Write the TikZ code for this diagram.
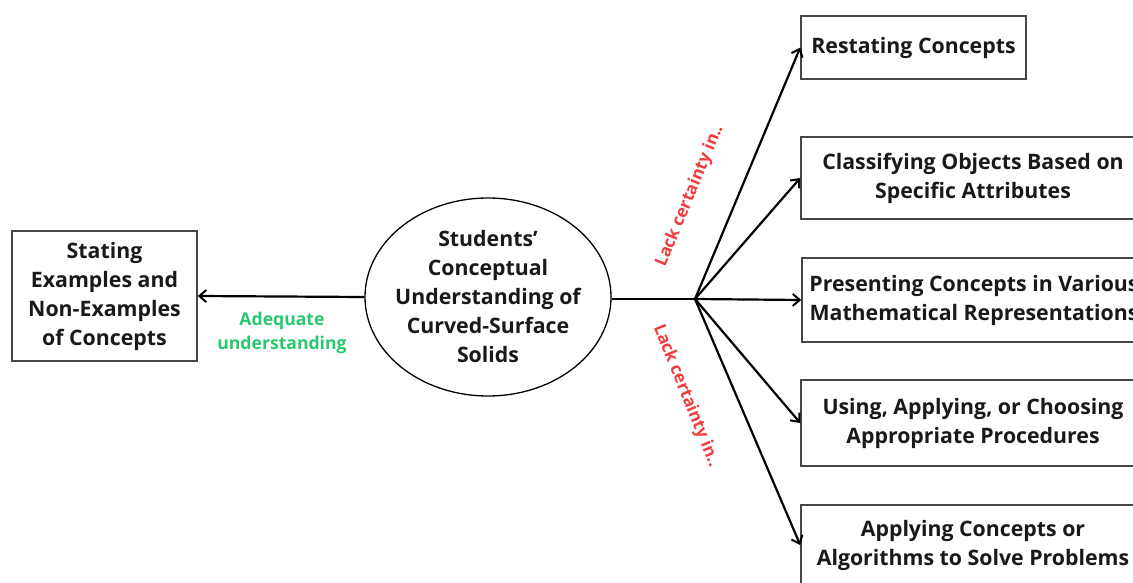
\documentclass[tikz,border=0pt]{standalone}
\usepackage{fontspec}
\setmainfont{Open Sans}
\usetikzlibrary{arrows.meta,shapes.geometric}
\definecolor{boxline}{RGB}{70,70,70}
\definecolor{lackred}{RGB}{240,60,60}
\definecolor{adqgreen}{RGB}{40,200,110}
\tikzset{
  txt/.style={font=\fontsize{21.3}{29}\selectfont\bfseries, align=center, text=black!90},
  rbox/.style={txt, draw=boxline, line width=1.5pt, inner sep=0pt},
  conn/.style={line width=2.2pt, -{Straight Barb[length=7pt,width=12pt,line width=2pt]}},
  plain/.style={line width=2.2pt},
  lab/.style={font=\fontsize{17}{24}\selectfont\bfseries, align=center}
}
\begin{document}
\begin{tikzpicture}[x=1pt,y=-1pt]
\useasboundingbox (0,0) rectangle (1133,583);
\node[rbox, minimum width=185, minimum height=130] (ex) at (104.5,296) {Stating\\Examples and\\Non-Examples\\of Concepts};
\node[draw=black, line width=1.3pt, ellipse, minimum width=246, minimum height=198, inner sep=0pt] (cu) at (488,297) {};
\node[txt] (cut) at (cu.center) {Students’\\Conceptual\\Understanding of\\Curved-Surface\\Solids};
\coordinate (hub) at (695,299);
\node[rbox, minimum width=225, minimum height=63] (rs) at (913.5,47.5) {Restating Concepts};
\node[rbox, minimum width=344, minimum height=82] (cl) at (973,178) {Classifying Objects Based on\\Specific Attributes};
\node[rbox, minimum width=344, minimum height=84] (pr) at (974,300) {Presenting Concepts in Various\\Mathematical Representations};
\node[rbox, minimum width=344, minimum height=86] (us) at (973,423) {Using, Applying, or Choosing\\Appropriate Procedures};
\node[rbox, minimum width=344, minimum height=80] (ap) at (973,545) {Applying Concepts or\\Algorithms to Solve Problems};
\draw[conn] (cu.west) -- (ex.east);
\draw[plain] (cu.east |- hub) -- (hub);
\draw[conn] (hub) -- (rs.west);
\draw[conn] (hub) -- (cl.west);
\draw[conn] (hub) -- (pr.west);
\draw[conn] (hub) -- (us.west);
\draw[conn] (hub) -- (ap.west);
\node[lab, font=\fontsize{17.6}{24}\selectfont\bfseries, text=adqgreen] (adq) at (282,333) {Adequate\\understanding};
\node[lab, text=lackred, rotate=67.5] (lk1) at (690,196) {Lack certainty in..};
\node[lab, text=lackred, rotate=-68] (lk2) at (686,396) {Lack certainty in..};
\end{tikzpicture}
\end{document}
